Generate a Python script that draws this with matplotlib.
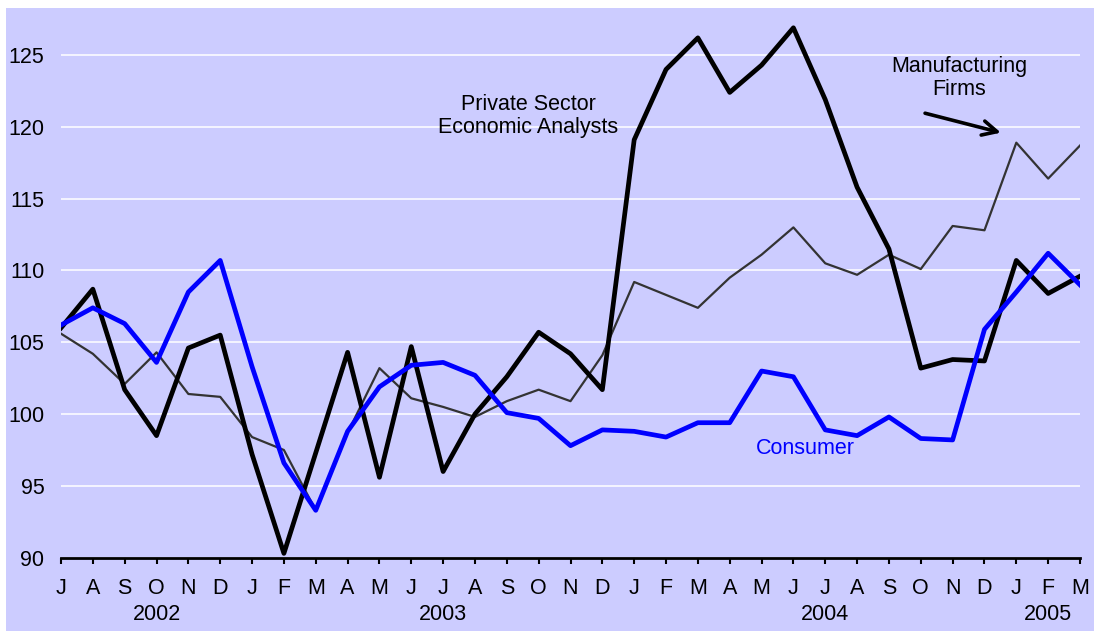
import numpy as np
import matplotlib.pyplot as plt
from matplotlib.patches import Rectangle

plt.rcParams['font.family'] = ['Liberation Sans', 'DejaVu Sans']

# Monthly index values, July 2002 - March 2005
months = list('JASONDJFMAMJJASONDJFMAMJJASONDJFM')
years = ['2002', '2003', '2004', '2005']
year_pos = [3, 12, 24, 31]

analysts = [106.0, 108.7, 101.7, 98.5, 104.6, 105.5, 97.2, 90.3, 97.3, 104.3,
            95.6, 104.7, 96.0, 100.0, 102.6, 105.7, 104.2, 101.7, 119.1, 124.0,
            126.2, 122.4, 124.3, 126.9, 121.9, 115.8, 111.5, 103.2, 103.8, 103.7,
            110.7, 108.4, 109.6]
consumer = [106.2, 107.4, 106.3, 103.6, 108.5, 110.7, 103.3, 96.6, 93.3, 98.8,
            101.9, 103.4, 103.6, 102.7, 100.1, 99.7, 97.8, 98.9, 98.8, 98.4,
            99.4, 99.4, 103.0, 102.6, 98.9, 98.5, 99.8, 98.3, 98.2, 105.9,
            108.5, 111.2, 109.0]
manufacturing = [105.6, 104.2, 102.1, 104.3, 101.4, 101.2, 98.4, 97.5, 93.3, 98.7,
                 103.2, 101.1, 100.5, 99.8, 100.9, 101.7, 100.9, 104.1, 109.2, 108.3,
                 107.4, 109.5, 111.1, 113.0, 110.5, 109.7, 111.1, 110.1, 113.1, 112.8,
                 118.9, 116.4, 118.7]

bg = '#CCCCFF'
fs = 15.5
x = np.arange(len(months))

fig = plt.figure(figsize=(10.94, 6.31), dpi=100)
fig.patch.set_facecolor('white')
fig.patches.append(Rectangle((6 / 1094, 0), 1, 1 - 8 / 631, transform=fig.transFigure,
                             facecolor=bg, edgecolor='none', zorder=-10))

ax = fig.add_axes([61 / 1094, 1 - 557.7 / 631, (1080 - 61) / 1094, (557.7 - 12) / 631])
ax.set_facecolor(bg)

ax.plot(x, manufacturing, color='#333333', lw=1.6, zorder=3)
ax.plot(x, analysts, color='black', lw=3.4, zorder=4)
ax.plot(x, consumer, color='#0000FF', lw=3.4, zorder=5)

ax.set_xlim(0, len(months) - 1)
ax.set_ylim(90, 128)
ax.set_yticks(range(90, 126, 5))
ax.yaxis.grid(True, color='white', lw=1.1)
ax.set_axisbelow(True)
ax.tick_params(axis='y', length=0, pad=12, labelsize=fs)
ax.set_xticks(x)
ax.set_xticklabels(months)
ax.tick_params(axis='x', direction='out', length=4.5, width=1.5, pad=10, labelsize=fs)
for s in ['top', 'right', 'left']:
    ax.spines[s].set_visible(False)
ax.spines['bottom'].set_linewidth(2)

for yr, p in zip(years, year_pos):
    ax.text(p, -0.105, yr, transform=ax.get_xaxis_transform(), ha='center', va='center',
            fontsize=fs)

ax.text(14.67, 120.75, 'Private Sector\nEconomic Analysts', ha='center', va='center',
        fontsize=fs, linespacing=1.15)
ax.text(28.2, 123.4, 'Manufacturing\nFirms', ha='center', va='center',
        fontsize=fs, linespacing=1.15)
ax.annotate('', xy=(29.6, 119.55), xytext=(27.05, 121.0),
            arrowprops=dict(arrowstyle='->', lw=2.6, color='black', mutation_scale=26))
ax.text(23.37, 97.6, 'Consumer', color='#0000FF', ha='center', va='center', fontsize=fs)

fig.savefig('out.png', dpi=100, facecolor=fig.get_facecolor())
